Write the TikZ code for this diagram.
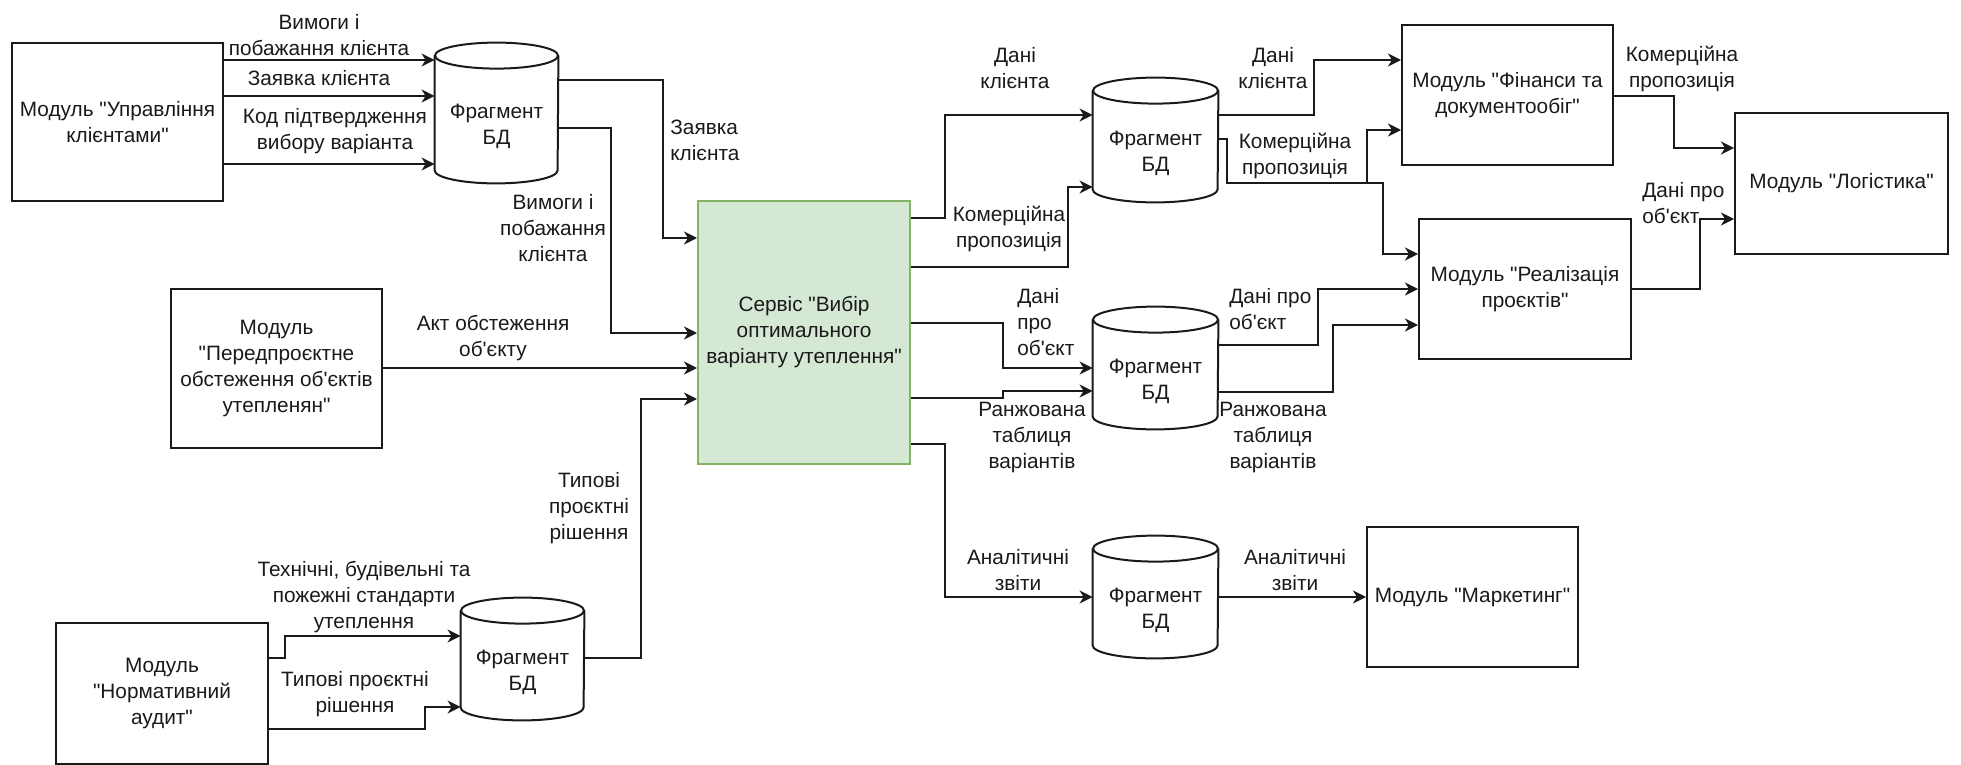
\documentclass[tikz,border=0pt]{standalone}
\usepackage{fontspec}
\newfontfamily\lblfam{Liberation Sans}
\usetikzlibrary{arrows.meta}
\newcommand\lbltext{\lblfam\fontsize{10.4pt}{13pt}\selectfont}
\definecolor{svcfill}{HTML}{D5E8D4}
\definecolor{svcline}{HTML}{82B366}
\definecolor{ink}{HTML}{1A1A1A}

% database cylinder drawn around a (borderless) rectangle node
\newcommand\dbcyl[2]{%
  \draw[dbline] ([yshift=-6.5pt]#1.north west) -- ([yshift=6.5pt]#1.south west)
    arc[start angle=180,end angle=360,x radius=#2,y radius=6.5pt]
    -- ([yshift=-6.5pt]#1.north east);
  \draw[dbline] ([yshift=-6.5pt]#1.north) ellipse[x radius=#2,y radius=6.5pt];
}

\tikzset{
  txt/.style={font=\lbltext, text=ink, align=center, inner sep=0pt},
  modbox/.style={draw=ink, line width=1pt, fill=white, font=\lbltext, text=ink,
                 align=center, inner sep=0pt},
  svcbox/.style={modbox, draw=svcline, fill=svcfill},
  db/.style={inner sep=0pt, fill=white},
  dbline/.style={draw=ink, line width=1pt},
  flow/.style={draw=ink, line width=1.1pt,
               -{Stealth[length=6.5pt,width=6.5pt,inset=2pt]}},
}

\begin{document}
\begin{tikzpicture}[x=0.5pt,y=-0.5pt]
\fill[white] (0,0) rectangle (1961,765);
\useasboundingbox (0,0) rectangle (1961,765);

% modules
\node[modbox, minimum width=105.5pt, minimum height=79pt] (m1) at (117.5,122)
  {Модуль "Управління\\клієнтами"};
\node[modbox, minimum width=105.5pt, minimum height=79.5pt] (m2) at (276.5,368.5)
  {Модуль\\"Передпроєктне\\обстеження об'єктів\\утепленян"};
\node[modbox, minimum width=106pt, minimum height=70.5pt] (m3) at (162,693.5)
  {Модуль\\"Нормативний\\аудит"};
\node[svcbox, minimum width=106pt, minimum height=131.5pt] (svc) at (804,332.5)
  {Сервіс "Вибір\\оптимального\\варіанту утеплення"};
\node[modbox, minimum width=105.5pt, minimum height=70pt] (fin) at (1507.5,95)
  {Модуль "Фінанси та\\документообіг"};
\node[modbox, minimum width=106.5pt, minimum height=70.5pt] (log) at (1841.5,183.5)
  {Модуль "Логістика"};
\node[modbox, minimum width=106pt, minimum height=70pt] (real) at (1525,289)
  {Модуль "Реалізація\\проєктів"};
\node[modbox, minimum width=105.5pt, minimum height=70pt] (mkt) at (1472.5,597)
  {Модуль "Маркетинг"};

% database fragments
\node[db, minimum width=61.5pt, minimum height=70pt] (d1) at (496.5,113) {};
\node[db, minimum width=62.5pt, minimum height=62pt] (d2) at (1155.5,140) {};
\node[db, minimum width=62.5pt, minimum height=61pt] (d3) at (1155.5,368) {};
\node[db, minimum width=62.5pt, minimum height=61pt] (d4) at (1155.5,597) {};
\node[db, minimum width=61.5pt, minimum height=61pt] (d5) at (522.5,659) {};
\dbcyl{d1}{30.75pt}
\dbcyl{d2}{31.25pt}
\dbcyl{d3}{31.25pt}
\dbcyl{d4}{31.25pt}
\dbcyl{d5}{30.75pt}
\node[txt] (d1t) at ([yshift=-6.5pt]d1.center) {Фрагмент\\БД};
\node[txt] (d2t) at ([yshift=-6.5pt]d2.center) {Фрагмент\\БД};
\node[txt] (d3t) at ([yshift=-6.5pt]d3.center) {Фрагмент\\БД};
\node[txt] (d4t) at ([yshift=-6.5pt]d4.center) {Фрагмент\\БД};
\node[txt] (d5t) at ([yshift=-6.5pt]d5.center) {Фрагмент\\БД};

% client management -> DB
\draw[flow] (m1.east |- 0,60) -- (d1.west |- 0,60);
\draw[flow] (m1.east |- 0,96) -- (d1.west |- 0,96);
\draw[flow] (m1.east |- 0,164) -- (d1.west |- 0,164);
% DB -> service
\draw[flow] (d1.east |- 0,80) -| (663,238) -- (svc.west |- 0,238);
\draw[flow] (d1.east |- 0,128) -| (611,333) -- (svc.west |- 0,333);
\draw[flow] (m2.east |- 0,368) -- (svc.west |- 0,368);
% normative audit -> DB -> service
\draw[flow] (m3.east |- 0,658) -| (285,636) -- (d5.west |- 0,636);
\draw[flow] (m3.east |- 0,729) -| (425,707) -- (d5.west |- 0,707);
\draw[flow] (d5.east |- 0,658) -| (641,399) -- (svc.west |- 0,399);
% service -> DB fragments
\draw[flow] (svc.east |- 0,218) -| (945,115) -- (d2.west |- 0,115);
\draw[flow] (svc.east |- 0,267) -| (1068,187) -- (d2.west |- 0,187);
\draw[flow] (svc.east |- 0,323) -| (1003,368) -- (d3.west |- 0,368);
\draw[flow] (svc.east |- 0,398) -| (1003,391) -- (d3.west |- 0,391);
\draw[flow] (svc.east |- 0,444) -| (945,597) -- (d4.west |- 0,597);
% DB fragments -> modules
\draw[flow] (d2.east |- 0,115) -| (1314,60) -- (fin.west |- 0,60);
\draw[flow] (d2.east |- 0,139) -| (1227,183) -| (1367,130) -- (fin.west |- 0,130);
\draw[flow] (d2.east |- 0,139) -| (1227,183) -| (1383,254) -- (real.west |- 0,254);
\draw[flow] (d3.east |- 0,345) -| (1318,289) -- (real.west |- 0,289);
\draw[flow] (d3.east |- 0,392) -| (1333,325) -- (real.west |- 0,325);
\draw[flow] (d4.east |- 0,597) -- (mkt.west |- 0,597);
% modules -> logistics
\draw[flow] (fin.east |- 0,96) -| (1674,148) -- (log.west |- 0,148);
\draw[flow] (real.east |- 0,289) -| (1700,219) -- (log.west |- 0,219);

% connector labels
\node[txt] (l1) at (319,35) {Вимоги і\\побажання клієнта};
\node[txt] (l2) at (319,78) {Заявка клієнта};
\node[txt] (l3) at (335,131) {Код підтвердження\\вибору варіанта};
\node[txt, anchor=west, align=left] (l4) at (670,140) {Заявка\\клієнта};
\node[txt] (l5) at (553,228) {Вимоги і\\побажання\\клієнта};
\node[txt] (l6) at (493,338) {Акт обстеження\\об'єкту};
\node[txt] (l7) at (1015,68) {Дані\\клієнта};
\node[txt] (l8) at (1009,229) {Комерційна\\пропозиція};
\node[txt, anchor=west, align=left] (l9) at (1017,322) {Дані\\про\\об'єкт};
\node[txt] (l10) at (1032,438) {Ранжована\\таблиця\\варіантів};
\node[txt] (l11) at (1018,570) {Аналітичні\\звіти};
\node[txt] (l12) at (1273,68) {Дані\\клієнта};
\node[txt] (l13) at (1295,156) {Комерційна\\пропозиція};
\node[txt, anchor=west, align=left] (l14) at (1229,309) {Дані про\\об'єкт};
\node[txt] (l15) at (1273,438) {Ранжована\\таблиця\\варіантів};
\node[txt] (l16) at (1295,570) {Аналітичні\\звіти};
\node[txt] (l17) at (1682,69) {Комерційна\\пропозиція};
\node[txt, anchor=west, align=left] (l18) at (1642,203) {Дані про\\об'єкт};
\node[txt] (l19) at (589,508) {Типові\\проєктні\\рішення};
\node[txt] (l20) at (364,597) {Технічні, будівельні та\\пожежні стандарти\\утеплення};
\node[txt] (l21) at (355,694) {Типові проєктні\\рішення};
\end{tikzpicture}
\end{document}
